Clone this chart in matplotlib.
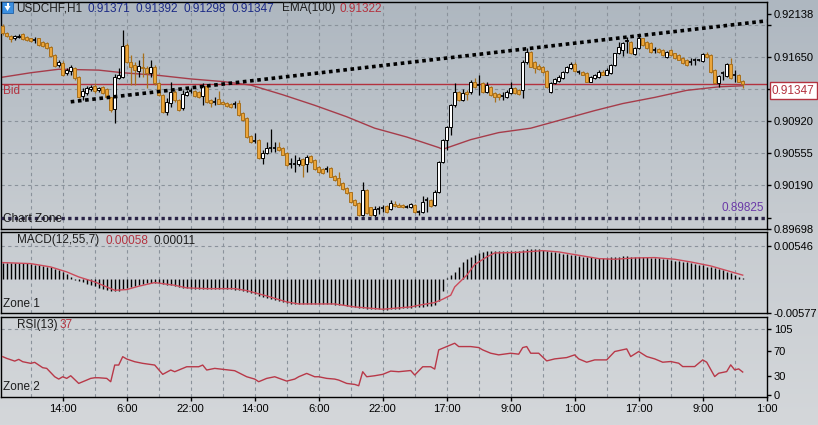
import numpy as np
import matplotlib.pyplot as plt
from matplotlib.colors import LinearSegmentedColormap
from matplotlib.patches import Rectangle, Polygon

plt.rcParams['font.family'] = ['Liberation Sans', 'DejaVu Sans']
plt.rcParams['font.size'] = 8

# USDCHF H1 candles, bar 0 .. 185
opens = [
    0.9200, 0.9192, 0.9189, 0.9186, 0.9188, 0.9191, 0.9188, 0.9186, 0.9184, 0.9186,
    0.9182, 0.9181, 0.9176, 0.9167, 0.9156, 0.9158, 0.9147, 0.9149, 0.9152, 0.9142,
    0.9121, 0.9124, 0.9129, 0.9132, 0.9127, 0.9131, 0.9129, 0.9119, 0.9106, 0.9141,
    0.9142, 0.9178, 0.9159, 0.9156, 0.9149, 0.9154, 0.9152, 0.9147, 0.9154, 0.9135,
    0.9122, 0.9102, 0.9113, 0.9125, 0.9116, 0.9107, 0.9122, 0.9126, 0.9126, 0.9125,
    0.9121, 0.9132, 0.9116, 0.9114, 0.9117, 0.9114, 0.9113, 0.9112, 0.9112, 0.9113,
    0.9101, 0.9096, 0.9075, 0.9069, 0.9071, 0.9050, 0.9056, 0.9062, 0.9062, 0.9063,
    0.9062, 0.9056, 0.9043, 0.9043, 0.9043, 0.9049, 0.9043, 0.9052, 0.9048, 0.9040,
    0.9038, 0.9038, 0.9039, 0.9030, 0.9027, 0.9022, 0.9016, 0.9011, 0.9002, 0.8999,
    0.8985, 0.9014, 0.8994, 0.8985, 0.8992, 0.8993, 0.8996, 0.8992, 0.8998, 0.8997,
    0.8997, 0.8995, 0.8994, 0.8997, 0.8989, 0.8989, 0.9002, 0.9002, 0.8997, 0.9011,
    0.9046, 0.9071, 0.9085, 0.9110, 0.9125, 0.9116, 0.9125, 0.9125, 0.9137, 0.9133,
    0.9135, 0.9125, 0.9131, 0.9124, 0.9123, 0.9121, 0.9119, 0.9124, 0.9130, 0.9127,
    0.9127, 0.9159, 0.9171, 0.9159, 0.9155, 0.9154, 0.9149, 0.9125, 0.9135, 0.9138,
    0.9141, 0.9148, 0.9152, 0.9157, 0.9148, 0.9148, 0.9147, 0.9137, 0.9141, 0.9142,
    0.9148, 0.9145, 0.9147, 0.9156, 0.9169, 0.9173, 0.9183, 0.9182, 0.9168, 0.9175,
    0.9186, 0.9182, 0.9181, 0.9173, 0.9174, 0.9173, 0.9165, 0.9173, 0.9169, 0.9167,
    0.9164, 0.9162, 0.9159, 0.9162, 0.9162, 0.9160, 0.9168, 0.9167, 0.9150, 0.9135,
    0.9147, 0.9143, 0.9157, 0.9145, 0.9145, 0.91371,
]
highs = [
    0.9202, 0.9193, 0.9190, 0.9190, 0.9191, 0.9192, 0.9189, 0.9187, 0.9188, 0.9187,
    0.9183, 0.9182, 0.9177, 0.9168, 0.9162, 0.9160, 0.9152, 0.9156, 0.9154, 0.9143,
    0.9130, 0.9132, 0.9133, 0.9135, 0.9131, 0.9132, 0.9130, 0.9120, 0.9146, 0.9152,
    0.9196, 0.9181, 0.9167, 0.9159, 0.9162, 0.9169, 0.9155, 0.9162, 0.9156, 0.9136,
    0.9123, 0.9118, 0.9137, 0.9127, 0.9117, 0.9127, 0.9127, 0.9130, 0.9127, 0.9126,
    0.9135, 0.9133, 0.9117, 0.9120, 0.9126, 0.9115, 0.9114, 0.9113, 0.9115, 0.9116,
    0.9102, 0.9097, 0.9076, 0.9078, 0.9072, 0.9059, 0.9068, 0.9083, 0.9068, 0.9068,
    0.9063, 0.9057, 0.9050, 0.9053, 0.9051, 0.9050, 0.9053, 0.9053, 0.9049, 0.9041,
    0.9039, 0.9041, 0.9040, 0.9031, 0.9034, 0.9023, 0.9017, 0.9012, 0.9003, 0.9000,
    0.9023, 0.9015, 0.8995, 0.8996, 0.8996, 0.8997, 0.8997, 0.9002, 0.9001, 0.8999,
    0.8998, 0.8997, 0.8999, 0.8998, 0.8991, 0.9007, 0.9006, 0.9003, 0.9014, 0.9047,
    0.9072, 0.9086, 0.9112, 0.9135, 0.9126, 0.9128, 0.9127, 0.9139, 0.9141, 0.9144,
    0.9136, 0.9136, 0.9132, 0.9125, 0.9124, 0.9125, 0.9127, 0.9137, 0.9131, 0.9128,
    0.9162, 0.9175, 0.9172, 0.9160, 0.9157, 0.9155, 0.9150, 0.9136, 0.9141, 0.9144,
    0.9149, 0.9155, 0.9159, 0.9159, 0.9150, 0.9149, 0.9148, 0.9143, 0.9146, 0.9150,
    0.9150, 0.9152, 0.9157, 0.9170, 0.9182, 0.9182, 0.9188, 0.9183, 0.9176, 0.9190,
    0.9187, 0.9183, 0.9182, 0.9176, 0.9175, 0.9174, 0.9172, 0.9174, 0.9170, 0.9168,
    0.9165, 0.9163, 0.9164, 0.9164, 0.9163, 0.9170, 0.9171, 0.9168, 0.9151, 0.9144,
    0.9149, 0.9158, 0.9164, 0.9150, 0.9146, 0.91392,
]
lows = [
    0.9190, 0.9188, 0.9182, 0.9184, 0.9186, 0.9184, 0.9183, 0.9182, 0.9181, 0.9177,
    0.9176, 0.9174, 0.9165, 0.9154, 0.9154, 0.9143, 0.9145, 0.9145, 0.9139, 0.9118,
    0.9116, 0.9122, 0.9126, 0.9124, 0.9125, 0.9123, 0.9118, 0.9102, 0.9090, 0.9140,
    0.9141, 0.9158, 0.9133, 0.9133, 0.9142, 0.9142, 0.9130, 0.9142, 0.9133, 0.9121,
    0.9101, 0.9099, 0.9108, 0.9114, 0.9104, 0.9105, 0.9121, 0.9124, 0.9120, 0.9118,
    0.9110, 0.9113, 0.9108, 0.9110, 0.9111, 0.9110, 0.9108, 0.9107, 0.9107, 0.9098,
    0.9092, 0.9073, 0.9067, 0.9067, 0.9049, 0.9043, 0.9055, 0.9057, 0.9057, 0.9058,
    0.9053, 0.9041, 0.9039, 0.9034, 0.9041, 0.9029, 0.9034, 0.9045, 0.9037, 0.9033,
    0.9032, 0.9034, 0.9028, 0.9024, 0.9018, 0.9014, 0.9009, 0.8999, 0.8996, 0.8984,
    0.8984, 0.8987, 0.8984, 0.8983, 0.8987, 0.8989, 0.8988, 0.8991, 0.8995, 0.8994,
    0.8993, 0.8993, 0.8993, 0.8988, 0.8985, 0.8988, 0.8989, 0.8995, 0.8996, 0.9010,
    0.9045, 0.9059, 0.9076, 0.9108, 0.9115, 0.9115, 0.9116, 0.9123, 0.9130, 0.9122,
    0.9124, 0.9124, 0.9121, 0.9114, 0.9116, 0.9116, 0.9118, 0.9123, 0.9123, 0.9122,
    0.9118, 0.9157, 0.9153, 0.9147, 0.9150, 0.9147, 0.9130, 0.9124, 0.9134, 0.9137,
    0.9140, 0.9147, 0.9151, 0.9148, 0.9146, 0.9144, 0.9136, 0.9136, 0.9140, 0.9141,
    0.9144, 0.9144, 0.9146, 0.9155, 0.9168, 0.9166, 0.9170, 0.9168, 0.9167, 0.9174,
    0.9177, 0.9174, 0.9170, 0.9169, 0.9170, 0.9166, 0.9164, 0.9166, 0.9163, 0.9161,
    0.9157, 0.9155, 0.9156, 0.9156, 0.9160, 0.9159, 0.9164, 0.9147, 0.9134, 0.9131,
    0.9139, 0.9142, 0.9140, 0.9137, 0.9136, 0.91298,
]
closes = [
    0.9192, 0.9189, 0.9185, 0.9189, 0.9189, 0.9185, 0.9184, 0.9183, 0.9184, 0.9178,
    0.9177, 0.9175, 0.9166, 0.9155, 0.9159, 0.9144, 0.9150, 0.9154, 0.9141, 0.9120,
    0.9126, 0.9130, 0.9131, 0.9126, 0.9130, 0.9124, 0.9119, 0.9105, 0.9142, 0.9145,
    0.9177, 0.9159, 0.9154, 0.9150, 0.9155, 0.9152, 0.9147, 0.9154, 0.9135, 0.9122,
    0.9102, 0.9114, 0.9125, 0.9116, 0.9105, 0.9123, 0.9125, 0.9126, 0.9121, 0.9120,
    0.9132, 0.9114, 0.9113, 0.9114, 0.9112, 0.9111, 0.9109, 0.9108, 0.9112, 0.9099,
    0.9093, 0.9074, 0.9068, 0.9069, 0.9050, 0.9056, 0.9062, 0.9062, 0.9062, 0.9059,
    0.9054, 0.9042, 0.9043, 0.9043, 0.9048, 0.9042, 0.9051, 0.9046, 0.9038, 0.9034,
    0.9033, 0.9038, 0.9029, 0.9025, 0.9019, 0.9015, 0.9010, 0.9000, 0.8997, 0.8985,
    0.9014, 0.8988, 0.8985, 0.8992, 0.8992, 0.8993, 0.8989, 0.8999, 0.8996, 0.8995,
    0.8994, 0.8995, 0.8998, 0.8989, 0.8989, 0.9000, 0.9002, 0.8996, 0.9011, 0.9046,
    0.9071, 0.9085, 0.9110, 0.9125, 0.9116, 0.9124, 0.9123, 0.9137, 0.9131, 0.9133,
    0.9125, 0.9133, 0.9122, 0.9119, 0.9119, 0.9121, 0.9125, 0.9130, 0.9124, 0.9123,
    0.9159, 0.9171, 0.9154, 0.9152, 0.9151, 0.9148, 0.9131, 0.9135, 0.9140, 0.9142,
    0.9148, 0.9154, 0.9157, 0.9149, 0.9148, 0.9145, 0.9137, 0.9142, 0.9145, 0.9148,
    0.9145, 0.9150, 0.9156, 0.9169, 0.9176, 0.9181, 0.9184, 0.9169, 0.9175, 0.9186,
    0.9178, 0.9175, 0.9171, 0.9173, 0.9171, 0.9167, 0.9171, 0.9167, 0.9164, 0.9162,
    0.9158, 0.9156, 0.9159, 0.9162, 0.9162, 0.9168, 0.9165, 0.9148, 0.9135, 0.9143,
    0.9147, 0.9157, 0.9141, 0.9145, 0.9137, 0.91347,
]

# EMA(100) read at selected bars
ema_bars = [0, 7, 14, 24, 30, 39, 47, 55, 62, 70, 78, 86, 93, 101, 109, 110, 117,
            124, 132, 140, 148, 155, 163, 171, 179, 185]
ema_vals = [0.9142, 0.9147, 0.9151, 0.9150, 0.9147, 0.9144, 0.9140, 0.9137, 0.9133,
            0.9122, 0.9110, 0.9097, 0.9084, 0.9074, 0.9062, 0.9060, 0.9071, 0.9079,
            0.9084, 0.9094, 0.9104, 0.9112, 0.9119, 0.9127, 0.9131, 0.91322]

# trend line anchors and levels
trend_bars = [17, 191]
trend_vals = [0.9114, 0.9206]
bid_price = 0.91347
zone_price = 0.89825

# MACD(12,55,7): histogram (one per bar) and signal line
macd_hist = [
    0.00268, 0.00268, 0.00268, 0.00268, 0.00268, 0.00262, 0.00255, 0.00240, 0.00230, 0.00220,
    0.00210, 0.00200, 0.00190, 0.00165, 0.00139, 0.00110, 0.00084, 0.00020, -0.00020, -0.00045,
    -0.00065, -0.00084, -0.00105, -0.00130, -0.00165, -0.00180, -0.00196, -0.00208, -0.00212, -0.00201,
    -0.00180, -0.00165, -0.00140, -0.00120, -0.00105, -0.00095, -0.00080, -0.00070, -0.00067, -0.00075,
    -0.00084, -0.00100, -0.00115, -0.00128, -0.00140, -0.00155, -0.00165, -0.00172, -0.00176, -0.00179,
    -0.00179, -0.00179, -0.00179, -0.00179, -0.00179, -0.00179, -0.00179, -0.00179, -0.00185, -0.00195,
    -0.00201, -0.00220, -0.00245, -0.00265, -0.00285, -0.00307, -0.00330, -0.00350, -0.00363, -0.00380,
    -0.00400, -0.00410, -0.00420, -0.00425, -0.00428, -0.00430, -0.00430, -0.00430, -0.00430, -0.00430,
    -0.00430, -0.00432, -0.00434, -0.00436, -0.00442, -0.00450, -0.00458, -0.00470, -0.00482, -0.00492,
    -0.00500, -0.00508, -0.00512, -0.00516, -0.00518, -0.00520, -0.00520, -0.00515, -0.00510, -0.00503,
    -0.00497, -0.00490, -0.00486, -0.00480, -0.00476, -0.00470, -0.00462, -0.00455, -0.00440, -0.00380,
    -0.00200, 0.00010, 0.00060, 0.00110, 0.00190, 0.00270, 0.00330, 0.00370, 0.00400, 0.00430,
    0.00450, 0.00460, 0.00470, 0.00465, 0.00465, 0.00465, 0.00465, 0.00465, 0.00465, 0.00470,
    0.00480, 0.00490, 0.00500, 0.00500, 0.00490, 0.00480, 0.00470, 0.00450, 0.00440, 0.00430,
    0.00420, 0.00410, 0.00400, 0.00390, 0.00380, 0.00370, 0.00360, 0.00355, 0.00350, 0.00350,
    0.00350, 0.00350, 0.00355, 0.00360, 0.00368, 0.00372, 0.00372, 0.00365, 0.00360, 0.00368,
    0.00362, 0.00358, 0.00352, 0.00348, 0.00340, 0.00330, 0.00320, 0.00310, 0.00300, 0.00290,
    0.00280, 0.00270, 0.00260, 0.00250, 0.00230, 0.00220, 0.00200, 0.00190, 0.00170, 0.00160,
    0.00140, 0.00110, 0.00090, 0.00060, 0.00030, 0.00011,
]
sig_bars = [0, 7, 12, 16, 19, 23, 26, 28, 31, 34, 38, 43, 46, 51, 58, 61, 66, 71, 74, 83,
            88, 95, 102, 104, 108, 110, 112, 113, 116, 118, 121, 123, 128, 133, 135, 139,
            143, 149, 153, 158, 163, 168, 172, 177, 185]
sig_vals = [0.00268, 0.00251, 0.00195, 0.00112, 0.00028, -0.00056, -0.00140, -0.00196,
            -0.00184, -0.00128, -0.00067, -0.00112, -0.00156, -0.00168, -0.00168, -0.00201,
            -0.00291, -0.00391, -0.00425, -0.00425, -0.00475, -0.00514, -0.00475, -0.00447,
            -0.00402, -0.00346, -0.00279, -0.00140, 0.00056, 0.00235, 0.00363, 0.00430,
            0.00436, 0.00458, 0.00469, 0.00447, 0.00402, 0.00335, 0.00324, 0.00346,
            0.00352, 0.00324, 0.00279, 0.00212, 0.00058]

# RSI(13)
rsi_bars = [0, 1, 3, 4, 5, 7, 8, 9, 10, 11, 13, 14, 15, 16, 17, 19, 21, 22, 23, 24,
            26, 27, 28, 29, 30, 31, 33, 35, 38, 40, 42, 43, 46, 49, 50, 51, 53, 58, 61, 63,
            64, 66, 68, 71, 73, 74, 76, 78, 79, 81, 83, 84, 86, 88, 89, 90, 91, 93, 95, 97,
            99, 102, 103, 105, 107, 108, 109, 111, 113, 114, 117, 119, 120, 122, 124, 127,
            129, 130, 131, 132, 134, 136, 138, 141, 143, 144, 146, 148, 151, 153, 156, 157,
            159, 161, 163, 165, 167, 169, 170, 173, 175, 176, 178, 179, 181, 182, 183, 184, 185]
rsi_vals = [61.4, 58.7, 54.4, 57.1, 53.4, 50.8, 52.4, 48.1, 43.9, 42.8, 29.5, 25.8, 29.5,
            26.9, 31.1, 18.9, 24.2, 26.9, 27.9, 27.9, 26.9, 21.6, 48.1, 48.1, 61.4, 57.7,
            53.4, 50.8, 48.1, 33.3, 40.2, 37.5, 45.4, 45.4, 48.1, 40.2, 42.8, 39.1, 29.5,
            25.8, 21.6, 26.9, 29.5, 22.6, 25.8, 29.5, 34.8, 29.5, 29.5, 26.9, 25.8, 24.2,
            18.9, 17.3, 15.2, 37.5, 29.5, 31.1, 33.3, 38.5, 37.5, 39.4, 32.2, 45.4, 45.4,
            41.7, 72.2, 77.5, 82.8, 77.5, 77.5, 75.9, 72.2, 66.9, 64.3, 66.9, 65.4, 75.9,
            77.5, 66.9, 66.9, 54.7, 57.9, 60.0, 64.3, 57.9, 52.6, 56.3, 56.3, 69.6, 73.8,
            61.6, 69.6, 61.6, 57.9, 52.6, 53.7, 51.0, 45.7, 45.7, 56.3, 52.6, 29.8, 35.1,
            37.7, 48.4, 40.4, 42.0, 37.0]

# axis ticks
time_ticks = [15, 31, 47, 63, 79, 95, 111, 127, 143, 159, 175, 191]
time_labels = ['14:00', '6:00', '22:00', '14:00', '6:00', '22:00',
               '17:00', '9:00', '1:00', '17:00', '9:00', '1:00']
price_ticks = [0.92138, 0.92015, 0.91650, 0.91285, 0.90920, 0.90555, 0.90190, 0.89825, 0.89698]
price_labels = ['0.92138', '', '0.91650', '', '0.90920', '0.90555', '0.90190', '', '0.89698']
price_grid = [0.92015, 0.91650, 0.91285, 0.90920, 0.90555, 0.90190]

W, H = 818, 425
GRID = '#8a929b'
RED = '#b3323f'
ORANGE = '#eba53a'
ORANGE_EDGE = '#a8701c'


def box(x0, y0, x1, y1):
    return [x0 / W, 1 - y1 / H, (x1 - x0) / W, (y1 - y0) / H]


def ftext(x, y, s, **kw):
    fig.text(x / W, 1 - y / H, s, va='center', **kw)


fig = plt.figure(figsize=(W / 100, H / 100), dpi=100)

# background gradient
bg = fig.add_axes([0, 0, 1, 1], zorder=-5)
cmap = LinearSegmentedColormap.from_list('bg', ['#aeb7c0', '#c6cbd0', '#d4d7da'])
bg.imshow(np.linspace(0, 1, 256).reshape(-1, 1), aspect='auto', cmap=cmap, extent=[0, 1, 0, 1])
bg.axis('off')

ax1 = fig.add_axes(box(1, 2, 766.7, 228.7))
ax2 = fig.add_axes(box(1, 232, 766.7, 313))
ax3 = fig.add_axes(box(1, 317, 766.7, 397))

for ax in (ax1, ax2, ax3):
    ax.set_facecolor('none')
    ax.set_xlim(-0.43, 191)
    for s in ax.spines.values():
        s.set_color('black')
        s.set_linewidth(1)
    ax.yaxis.tick_right()
    ax.tick_params(axis='y', length=3, width=1, pad=2, labelsize=8, colors='black')
    for b in range(7, 191, 8):
        ax.axvline(b, color=GRID, lw=0.8, ls=(0, (3, 3)), zorder=0)

ax1.tick_params(axis='x', bottom=False, labelbottom=False)
ax2.tick_params(axis='x', bottom=False, labelbottom=False)

# ---- main price panel
ax1.set_ylim(0.89698, 0.92274)
ax1.set_yticks(price_ticks)
ax1.set_yticklabels(price_labels)
for lvl in price_grid:
    ax1.axhline(lvl, color=GRID, lw=0.8, ls=(0, (3, 3)), zorder=0)

x = np.arange(len(closes))
o = np.array(opens)
h = np.array(highs)
l = np.array(lows)
c = np.array(closes)
up = c > o + 1e-9
down = c < o - 1e-9
flat = ~(up | down)

ax1.plot(ema_bars, ema_vals, color='#a63c4a', lw=1, zorder=2)
ax1.axhline(bid_price, color=RED, lw=1, zorder=2)

ax1.vlines(x[up], l[up], h[up], color='black', lw=0.9, zorder=3)
ax1.bar(x[up], (c - o)[up], bottom=o[up], width=0.62, color='white',
        edgecolor='black', linewidth=0.7, zorder=4)
ax1.vlines(x[down], l[down], h[down], color=ORANGE_EDGE, lw=0.9, zorder=3)
ax1.bar(x[down], (o - c)[down], bottom=c[down], width=0.62, color=ORANGE,
        edgecolor=ORANGE_EDGE, linewidth=0.7, zorder=4)
ax1.vlines(x[flat], l[flat], h[flat], color='black', lw=0.9, zorder=3)
ax1.hlines(o[flat], x[flat] - 0.4, x[flat] + 0.4, color='black', lw=1.2, zorder=4)

ax1.plot(trend_bars, trend_vals, color='black', lw=2.6, ls=(0, (1, 1)), zorder=6)
ax1.axhline(zone_price, color='#2a2347', lw=2.4, ls=(0, (1, 1)), zorder=6)

# ---- MACD panel
ax2.set_ylim(-0.00577, 0.00781)
ax2.set_yticks([0.00546, -0.00577])
ax2.set_yticklabels(['0.00546', '-0.00577'])
ax2.axhline(0.00546, color=GRID, lw=0.8, ls=(0, (3, 3)), zorder=0)
ax2.vlines(x, 0, macd_hist, color='black', lw=1, zorder=2)
ax2.plot(sig_bars, sig_vals, color='#cc4a5a', lw=1, zorder=3)

# ---- RSI panel
ax3.set_ylim(-2.7, 124.5)
ax3.set_yticks([105, 70, 30, 0])
ax3.set_yticklabels(['105', '70', '30', '0'])
ax3.axhline(105, color=GRID, lw=0.8, ls=(0, (3, 3)), zorder=0)
ax3.plot(rsi_bars, rsi_vals, color='#b83848', lw=1, zorder=3)
ax3.set_xticks(time_ticks)
ax3.set_xticklabels(time_labels)
ax3.tick_params(axis='x', length=3, width=1, pad=2, labelsize=8, colors='black')

# ---- texts
fig.patches.append(Rectangle((2 / W, 1 - 13 / H), 11 / W, 11 / H, transform=fig.transFigure,
                             facecolor='#3b8fe0', edgecolor='#1f5fa6', lw=0.6))
fig.patches.append(Polygon([(4.5 / W, 1 - 6 / H), (10.5 / W, 1 - 6 / H), (7.5 / W, 1 - 11 / H)],
                           closed=True, transform=fig.transFigure, facecolor='white', lw=0))
fig.patches.append(Rectangle((6.5 / W, 1 - 6 / H), 2 / W, 3 / H, transform=fig.transFigure,
                             facecolor='white', lw=0))

ftext(16.5, 8.5, 'USDCHF,H1', color='#1c1c1c', fontsize=8.5)
for px, s in zip([87, 135, 184, 232], ['0.91371', '0.91392', '0.91298', '0.91347']):
    ftext(px, 8.5, s, color='#1b2a86', fontsize=8.5)
ftext(282, 8.5, 'EMA(100)', color='#1c1c1c', fontsize=8.5)
ftext(340, 8.5, '0.91322', color=RED, fontsize=8.5)

ftext(3, 90.5, 'Bid', color=RED, fontsize=8.5)
ftext(3, 219, 'Chart Zone', color='#1c1c1c', fontsize=8.5)
ftext(764, 208, '0.89825', color='#6b3aa8', fontsize=8.5, ha='right')
ftext(772, 90.5, '0.91347', color=RED, fontsize=8.5,
      bbox=dict(facecolor='white', edgecolor=RED, pad=1.6, lw=1))

ftext(16.5, 240.5, 'MACD(12,55,7)', color='#1c1c1c', fontsize=8.5)
ftext(105, 240.5, '0.00058', color=RED, fontsize=8.5)
ftext(153, 240.5, '0.00011', color='#1c1c1c', fontsize=8.5)
ftext(3, 304, 'Zone 1', color='#1c1c1c', fontsize=8.5)

ftext(16.5, 325, 'RSI(13)', color='#1c1c1c', fontsize=8.5)
ftext(60, 325, '37', color=RED, fontsize=8.5)
ftext(3, 387, 'Zone 2', color='#1c1c1c', fontsize=8.5)

fig.savefig('out.png', dpi=100)
